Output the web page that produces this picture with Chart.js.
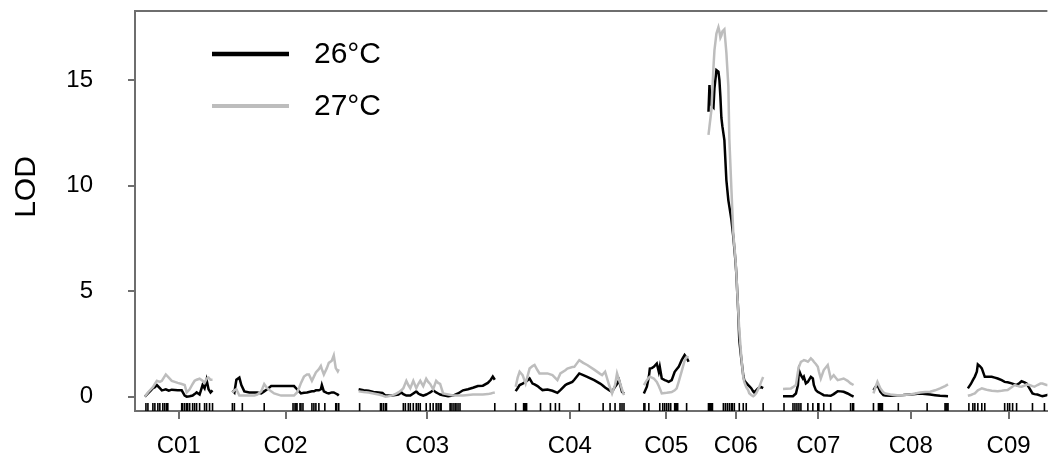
<!DOCTYPE html>
<html>
<head>
<meta charset="utf-8">
<title>LOD profile</title>
<script src="https://cdn.jsdelivr.net/npm/chart.js@4.4.0/dist/chart.umd.min.js"></script>
<style>
  html, body { margin: 0; padding: 0; background: #fff; }
  #wrap { position: relative; width: 1053px; height: 456px; }
</style>
</head>
<body>
<div id="wrap"><canvas id="lod-chart"></canvas></div>
<script>
// Chromosomes and their map lengths (cM)
const chromosomes = ['C01', 'C02', 'C03', 'C04', 'C05', 'C06', 'C07', 'C08', 'C09'];
const chromLength = [68, 107, 138, 109, 45, 55, 71, 75, 82];
const chromGap = 20;

// Marker positions (rug), cM within each chromosome
const markerPos = [
  [1, 3, 8, 10, 13, 15, 18, 20, 22, 23, 37, 38, 40, 42, 43, 45, 48, 50, 52, 55, 60, 62, 65, 68],
  [0, 2, 10, 32, 61, 63, 64, 65, 68, 69, 71, 80, 82, 84, 87, 93, 104, 105, 107],
  [1, 22, 23, 25, 27, 28, 45, 47, 50, 52, 55, 58, 60, 62, 68, 72, 75, 78, 80, 82, 83, 92, 93, 95, 97, 98, 100, 102, 137],
  [0, 8, 9, 10, 11, 25, 35, 40, 44, 64, 88, 95, 100, 105, 107, 109],
  [0, 1, 5, 16, 19, 21, 23, 25, 27, 31, 32, 33, 34, 43],
  [0, 1, 2, 3, 4, 15, 17, 19, 21, 23, 24, 26, 31, 35, 38, 55],
  [1, 10, 12, 14, 16, 18, 25, 30, 35, 36, 41, 48, 68, 70, 71],
  [0, 5, 6, 7, 8, 9, 25, 54, 72, 73, 74, 75],
  [1, 5, 7, 10, 14, 17, 37, 40, 42, 45, 49, 65, 77]
];

// Scan positions (cM within each chromosome)
const lodPos = [
  [0, 3, 6, 8, 10, 12, 15, 17, 19, 21, 24, 27, 30, 33, 37, 40, 42, 45, 48, 50, 52, 55, 58, 60, 62, 64, 66, 68],
  [0, 2, 4, 7, 9, 12, 17, 22, 25, 29, 32, 35, 39, 42, 49, 57, 62, 65, 67, 69, 72, 75, 77, 80, 82, 84, 87, 89, 90, 92, 95, 97, 100, 102, 104, 106, 107],
  [0, 5, 10, 15, 20, 24, 27, 30, 33, 37, 40, 43, 45, 48, 50, 52, 55, 58, 60, 62, 65, 68, 70, 72, 75, 78, 80, 82, 85, 90, 95, 100, 105, 110, 115, 120, 125, 130, 133, 135, 137],
  [0, 2, 4, 7, 10, 14, 17, 19, 22, 24, 27, 32, 37, 42, 45, 50, 52, 57, 59, 64, 68, 72, 79, 85, 87, 90, 94, 97, 100, 102, 104, 107, 109],
  [0, 3, 5, 6, 8, 10, 13, 15, 16, 18, 21, 23, 25, 28, 31, 33, 35, 38, 41, 43, 45],
  [0, 1, 2, 3, 5, 6, 8, 10, 11, 12, 13, 14, 16, 18, 20, 21, 23, 25, 27, 28, 29, 30, 31, 33, 34, 35, 36, 38, 40, 41, 43, 45, 46, 48, 50, 51, 53, 55],
  [0, 3, 8, 10, 13, 15, 16, 18, 20, 21, 23, 25, 26, 28, 30, 31, 33, 35, 36, 38, 41, 45, 48, 51, 55, 58, 61, 65, 68, 71],
  [0, 2, 4, 7, 10, 12, 17, 24, 30, 37, 42, 47, 52, 57, 62, 67, 72, 75],
  [0, 3, 5, 7, 9, 10, 12, 14, 17, 20, 24, 27, 30, 34, 37, 40, 44, 47, 49, 52, 54, 57, 59, 62, 65, 67, 70, 73, 75, 79, 82]
];

// LOD scores at 26°C
const lod26 = [
  [0.0, 0.15, 0.3, 0.4, 0.45, 0.55, 0.4, 0.3, 0.32, 0.35, 0.28, 0.33, 0.32, 0.3, 0.3, 0.05, 0.0, 0.02, 0.05, 0.12, 0.2, 0.1, 0.55, 0.4, 0.8, 0.35, 0.2, 0.3],
  [0.3, 0.2, 0.8, 0.9, 0.55, 0.25, 0.2, 0.2, 0.2, 0.15, 0.25, 0.35, 0.5, 0.5, 0.5, 0.5, 0.5, 0.35, 0.25, 0.15, 0.18, 0.2, 0.22, 0.25, 0.25, 0.3, 0.3, 0.35, 0.55, 0.25, 0.18, 0.15, 0.2, 0.2, 0.15, 0.1, 0.05],
  [0.35, 0.3, 0.28, 0.22, 0.2, 0.18, 0.05, 0.05, 0.05, 0.08, 0.1, 0.2, 0.12, 0.05, 0.05, 0.05, 0.15, 0.25, 0.15, 0.1, 0.05, 0.1, 0.15, 0.2, 0.3, 0.2, 0.15, 0.1, 0.07, 0.02, 0.05, 0.15, 0.3, 0.35, 0.42, 0.5, 0.52, 0.65, 0.8, 0.95, 0.8],
  [0.26, 0.4, 0.55, 0.62, 0.7, 0.86, 0.62, 0.58, 0.5, 0.42, 0.31, 0.34, 0.28, 0.18, 0.31, 0.55, 0.6, 0.7, 0.8, 1.1, 1.02, 0.94, 0.78, 0.62, 0.55, 0.43, 0.31, 0.23, 0.47, 0.6, 0.78, 0.23, 0.15],
  [0.15, 0.47, 0.94, 1.33, 1.35, 1.41, 1.57, 1.18, 1.41, 0.86, 0.78, 0.75, 0.7, 0.78, 1.18, 1.3, 1.41, 1.73, 1.97, 1.85, 1.65],
  [13.5, 14.76, 13.9, 13.8, 13.7, 14.6, 15.47, 15.4, 15.0, 14.2, 13.2, 12.8, 12.15, 10.26, 9.3, 9.0, 8.4, 7.57, 6.5, 5.85, 4.9, 3.95, 2.68, 1.8, 1.4, 1.0, 0.78, 0.65, 0.55, 0.5, 0.4, 0.25, 0.2, 0.3, 0.4, 0.42, 0.45, 0.4],
  [0.02, 0.02, 0.02, 0.02, 0.15, 0.55, 1.26, 1.02, 0.86, 0.94, 0.63, 0.7, 0.78, 0.94, 0.86, 0.55, 0.31, 0.22, 0.2, 0.15, 0.07, 0.05, 0.04, 0.12, 0.26, 0.25, 0.23, 0.15, 0.07, 0.0],
  [0.31, 0.45, 0.55, 0.23, 0.07, 0.05, 0.04, 0.07, 0.08, 0.1, 0.12, 0.15, 0.12, 0.1, 0.07, 0.04, 0.03, 0.02],
  [0.39, 0.6, 0.78, 0.95, 1.18, 1.53, 1.45, 1.34, 0.94, 0.94, 0.94, 0.9, 0.86, 0.78, 0.7, 0.68, 0.63, 0.58, 0.55, 0.65, 0.73, 0.68, 0.63, 0.39, 0.15, 0.12, 0.1, 0.05, 0.02, 0.07, 0.1]
];

// LOD scores at 27°C
const lod27 = [
  [0.0, 0.2, 0.35, 0.45, 0.6, 0.75, 0.7, 0.75, 0.9, 1.05, 0.9, 0.75, 0.7, 0.65, 0.6, 0.55, 0.2, 0.35, 0.6, 0.75, 0.8, 0.85, 0.75, 0.65, 0.85, 0.9, 0.8, 0.8],
  [0.2, 0.3, 0.35, 0.05, 0.05, 0.05, 0.05, 0.05, 0.1, 0.25, 0.6, 0.4, 0.25, 0.15, 0.05, 0.05, 0.05, 0.2, 0.4, 0.65, 0.95, 1.05, 1.05, 0.75, 0.95, 1.15, 1.3, 1.45, 1.3, 1.05, 1.35, 1.6, 1.7, 1.95, 1.35, 1.2, 1.3],
  [0.25, 0.22, 0.2, 0.15, 0.1, 0.05, 0.0, 0.02, 0.05, 0.12, 0.2, 0.3, 0.4, 0.75, 0.55, 0.4, 0.75, 0.4, 0.6, 0.75, 0.5, 0.85, 0.7, 0.6, 0.35, 0.75, 0.65, 0.6, 0.15, 0.1, 0.05, 0.05, 0.05, 0.08, 0.1, 0.1, 0.1, 0.12, 0.15, 0.18, 0.2],
  [0.47, 0.9, 1.18, 1.02, 0.62, 1.33, 1.45, 1.5, 1.25, 1.1, 1.1, 1.1, 1.02, 0.78, 1.1, 1.25, 1.33, 1.4, 1.41, 1.73, 1.6, 1.5, 1.28, 1.08, 1.02, 1.18, 0.55, 0.15, 0.55, 1.1, 0.8, 0.35, 0.07],
  [0.55, 0.78, 0.9, 0.94, 0.9, 0.86, 0.7, 0.5, 0.39, 0.15, 0.17, 0.18, 0.2, 0.22, 0.3, 0.39, 0.7, 1.2, 1.7, 1.89, 1.85],
  [12.4, 12.8, 13.2, 13.6, 15.6, 16.4, 17.2, 17.5, 17.3, 17.0, 17.1, 17.3, 17.4, 16.3, 14.7, 12.2, 9.9, 7.7, 6.6, 5.9, 4.9, 4.0, 3.15, 1.9, 1.4, 0.93, 0.7, 0.45, 0.3, 0.16, 0.08, 0.02, 0.05, 0.16, 0.35, 0.45, 0.7, 0.93],
  [0.36, 0.37, 0.39, 0.45, 0.55, 1.18, 1.4, 1.65, 1.7, 1.73, 1.7, 1.65, 1.7, 1.81, 1.72, 1.65, 1.55, 1.42, 1.2, 0.86, 1.26, 1.5, 0.86, 1.02, 0.78, 0.82, 0.86, 0.75, 0.63, 0.55],
  [0.15, 0.45, 0.7, 0.39, 0.2, 0.15, 0.1, 0.07, 0.08, 0.1, 0.15, 0.2, 0.22, 0.23, 0.3, 0.39, 0.5, 0.58],
  [0.04, 0.08, 0.12, 0.15, 0.25, 0.3, 0.35, 0.39, 0.35, 0.31, 0.28, 0.27, 0.26, 0.28, 0.3, 0.31, 0.45, 0.55, 0.52, 0.48, 0.47, 0.52, 0.58, 0.55, 0.5, 0.47, 0.55, 0.62, 0.62, 0.55, 0.55]
];

const yTicks = [0, 5, 10, 15];

const FONT = "'Liberation Sans', Arial, Helvetica, sans-serif";
const AXIS_COLOR = '#6e6e6e';
const RUG_LEVEL = -0.49;

// Cumulative chromosome offsets on the concatenated map
const chromStart = [];
let acc = 0;
chromLength.forEach(function(len) {
    chromStart.push(acc);
    acc += len + chromGap;
});
const chromMid = chromStart.map((s, i) => s + chromLength[i] / 2);

// One series, broken between chromosomes
function buildLine(values) {
    const pts = [];
    lodPos.forEach(function(pos, c) {
        pos.forEach((p, k) => pts.push({ x: chromStart[c] + p, y: values[c][k] }));
        pts.push({ x: chromStart[c] + chromLength[c] + chromGap / 2, y: null });
    });
    return pts;
}

const rugPoints = [];
markerPos.forEach(function(pos, c) {
    pos.forEach(p => rugPoints.push({ x: chromStart[c] + p, y: RUG_LEVEL }));
});

// Legend drawn inside the plot, top-left
const insideLegend = {
    id: 'insideLegend',
    afterDraw(chart) {
        const ctx = chart.ctx;
        const items = [
            { label: '26°C', color: '#000000', width: 4.5, y: 54 },
            { label: '27°C', color: '#bdbdbd', width: 4, y: 106 }
        ];
        ctx.save();
        items.forEach(function(it) {
            ctx.strokeStyle = it.color;
            ctx.lineWidth = it.width;
            ctx.beginPath();
            ctx.moveTo(212, it.y);
            ctx.lineTo(289, it.y);
            ctx.stroke();
            ctx.fillStyle = '#000';
            ctx.font = '30px ' + FONT;
            ctx.textAlign = 'left';
            ctx.textBaseline = 'middle';
            ctx.fillText(it.label, 314, it.y + 1);
        });
        ctx.restore();
    }
};

// Top frame line and y-axis title
const frameAndTitle = {
    id: 'frameAndTitle',
    afterDraw(chart) {
        const ctx = chart.ctx;
        const area = chart.chartArea;
        ctx.save();
        ctx.strokeStyle = AXIS_COLOR;
        ctx.lineWidth = 2;
        ctx.beginPath();
        ctx.moveTo(area.left - 1, area.top);
        ctx.lineTo(area.right, area.top);
        ctx.stroke();

        ctx.translate(27, 187);
        ctx.rotate(-Math.PI / 2);
        ctx.fillStyle = '#000';
        ctx.font = '30px ' + FONT;
        ctx.textAlign = 'center';
        ctx.textBaseline = 'middle';
        ctx.fillText('LOD', 0, 0);
        ctx.restore();
    }
};

const ctx = document.getElementById('lod-chart').getContext('2d');

const lodChart = new Chart(ctx, {
    type: 'line',
    data: {
        datasets: [
            {
                label: '27°C',
                data: buildLine(lod27),
                borderColor: '#bdbdbd',
                borderWidth: 2.5,
                pointRadius: 0,
                tension: 0,
                spanGaps: false,
                order: 0
            },
            {
                label: '26°C',
                data: buildLine(lod26),
                borderColor: '#000000',
                borderWidth: 2.5,
                pointRadius: 0,
                tension: 0,
                spanGaps: false,
                order: 1
            },
            {
                type: 'scatter',
                label: 'markers',
                data: rugPoints,
                showLine: false,
                pointStyle: 'line',
                pointRadius: 4,
                pointRotation: 90,
                pointBorderColor: '#000000',
                pointBorderWidth: 1.6,
                order: 2
            }
        ]
    },
    options: {
        responsive: true,
        maintainAspectRatio: false,
        animation: false,
        layout: { padding: { top: 11, right: 0, bottom: 0, left: 0 } },
        plugins: {
            legend: { display: false },
            tooltip: { enabled: false }
        },
        scales: {
            x: {
                type: 'linear',
                min: -10,
                max: 908,
                afterBuildTicks: function(scale) {
                    scale.ticks = chromMid.map(v => ({ value: v }));
                },
                afterFit: function(scale) {
                    scale.height = 45;
                    scale.paddingLeft = 0;
                    scale.paddingRight = 0;
                },
                ticks: {
                    callback: (value, index) => chromosomes[index],
                    font: { family: FONT, size: 24 },
                    color: '#000',
                    padding: 13,
                    maxRotation: 0,
                    autoSkip: false
                },
                grid: { drawOnChartArea: false, tickLength: 8, color: AXIS_COLOR, lineWidth: 2 },
                border: { color: AXIS_COLOR, width: 2 }
            },
            y: {
                min: -0.68,
                max: 18.27,
                afterBuildTicks: function(scale) {
                    scale.ticks = yTicks.map(v => ({ value: v }));
                },
                afterFit: function(scale) {
                    scale.width = 135;
                    scale.paddingTop = 0;
                    scale.paddingBottom = 0;
                },
                ticks: {
                    font: { family: FONT, size: 24 },
                    color: '#000',
                    padding: 35
                },
                grid: { drawOnChartArea: false, tickLength: 7, color: AXIS_COLOR, lineWidth: 2 },
                border: { color: AXIS_COLOR, width: 2 }
            }
        }
    },
    plugins: [insideLegend, frameAndTitle]
});
</script>
</body>
</html>
